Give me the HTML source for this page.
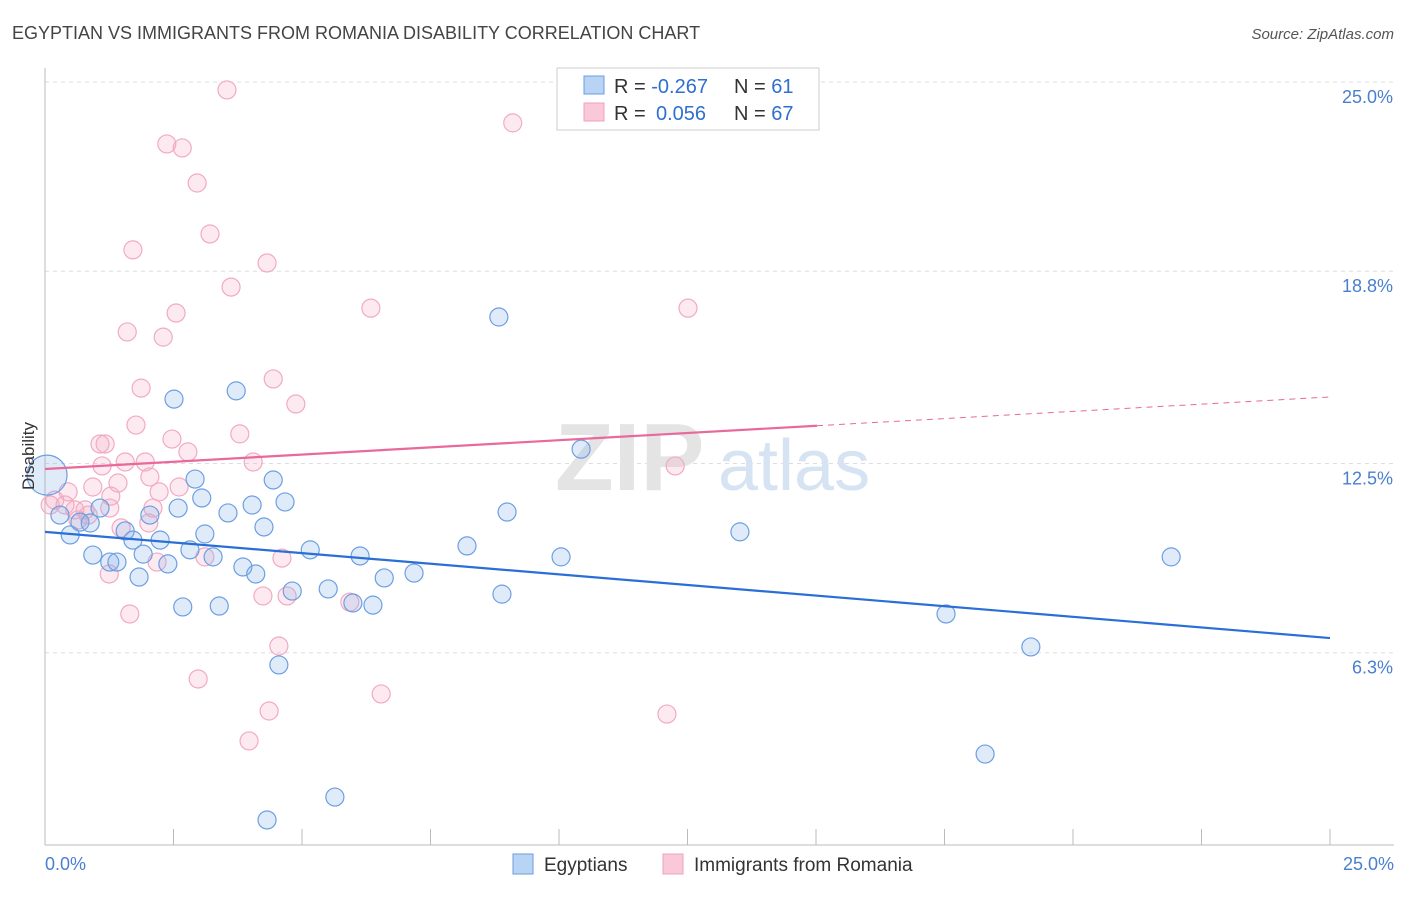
<!DOCTYPE html>
<html><head><meta charset="utf-8"><style>
body{margin:0;background:#fff;font-family:"Liberation Sans",sans-serif;}
svg text{font-family:"Liberation Sans",sans-serif;}
</style></head><body>
<svg id="chart" width="1406" height="892">
<text x="12" y="39" font-size="18" fill="#444">EGYPTIAN VS IMMIGRANTS FROM ROMANIA DISABILITY CORRELATION CHART</text>
<text x="1394" y="39" font-size="15" fill="#555" text-anchor="end" font-style="italic">Source: ZipAtlas.com</text>
<g id="grid"></g>
<text x="555" y="490" font-size="96" fill="#e4e4e4" font-family="Liberation Serif" font-weight="bold">ZIP</text>
<text x="718" y="490" font-size="72" fill="#d6e3f3">atlas</text>
<g id="marks"></g>
<text transform="translate(34,456) rotate(-90)" font-size="17" fill="#333" text-anchor="middle">Disability</text>
<text x="45" y="870" font-size="18" fill="#4a7fd0">0.0%</text>
<text x="1394" y="870" font-size="18" fill="#4a7fd0" text-anchor="end">25.0%</text>
<g>
<rect x="557" y="68" width="262" height="62" fill="#fff" stroke="#ccc"/>
<rect x="584" y="76" width="20" height="18" fill="#b9d3f5" stroke="#6a9de0"/>
<rect x="584" y="103" width="20" height="18" fill="#f9c9d8" stroke="#eea0ba"/>
<text x="614" y="93" font-size="20" fill="#333">R = <tspan fill="#2f6fd0">-0.267</tspan><tspan x="734">N = </tspan><tspan fill="#2f6fd0">61</tspan></text>
<text x="614" y="120" font-size="20" fill="#333">R = <tspan fill="#2f6fd0" x="656">0.056</tspan><tspan x="734">N = </tspan><tspan fill="#2f6fd0">67</tspan></text>
</g>
<g>
<rect x="513" y="854" width="20" height="20" fill="#b9d3f5" stroke="#6a9de0"/>
<text x="544" y="871" font-size="19" fill="#333">Egyptians</text>
<rect x="663" y="854" width="20" height="20" fill="#f9c9d8" stroke="#eea0ba"/>
<text x="694" y="871" font-size="19" fill="#333">Immigrants from Romania</text>
</g>
</svg>
<script>
const blueX=[8.83,2.51,3.72,10.43,2.92,4.44,3.05,4.67,2.59,4.03,3.56,8.99,4.26,13.52,3.11,1.56,1.07,0.49,1.71,2.24,0.93,1.91,2.82,5.16,6.13,8.21,10.04,21.91,1.26,1.40,2.39,3.27,3.85,4.10,1.83,6.60,7.18,4.81,5.51,5.99,6.38,8.89,2.68,3.39,17.53,19.18,4.55,18.29,5.64,4.32,0.29,0.68,0.88,2.04,0.04];
const blueY=[17.30,14.61,14.88,12.97,11.99,11.96,11.37,11.24,11.04,11.14,10.88,10.91,10.42,10.26,10.19,10.29,11.04,10.16,9.99,9.99,9.50,9.53,9.67,9.67,9.47,9.80,9.44,9.44,9.27,9.27,9.21,9.44,9.11,8.88,8.78,8.75,8.91,8.32,8.39,7.93,7.86,8.22,7.80,7.83,7.57,6.49,5.90,2.98,1.57,0.82,10.81,10.58,10.55,10.81,12.12];
const pinkX=[3.54,9.10,2.37,2.67,2.96,3.21,1.71,4.32,3.62,6.34,12.51,2.55,1.60,2.30,4.44,1.87,4.88,1.77,3.79,2.47,1.07,1.17,2.78,12.26,1.11,1.56,1.95,4.05,2.04,1.42,0.93,2.61,2.22,0.45,1.28,0.19,0.39,0.78,1.26,2.10,0.58,2.02,1.48,4.61,3.11,2.18,1.25,4.24,4.71,5.93,1.65,4.55,2.98,6.54,4.36,12.10,3.97,0.10,0.64,0.84];
const pinkY=[24.74,23.66,22.97,22.84,21.69,20.02,19.50,19.07,18.28,17.59,17.59,17.43,16.81,16.64,15.27,14.97,14.45,13.76,13.47,13.30,13.14,13.14,12.88,12.42,12.42,12.55,12.55,12.55,12.06,11.86,11.73,11.73,11.57,11.57,11.43,11.30,11.14,10.98,11.04,11.04,10.98,10.55,10.39,9.40,9.44,9.27,8.88,8.16,8.16,7.96,7.57,6.52,5.44,4.95,4.39,4.29,3.41,11.14,10.65,10.81];
const yTicks=[25.0,18.8,12.5,6.3];
const yTickLabels=["25.0%","18.8%","12.5%","6.3%"];
const blueTrend=[10.26,6.78];
const pinkTrend=[12.32,14.68];
const pinkSolidEnd=15.02;
const NS="http://www.w3.org/2000/svg";
const sx=v=>45+v/25*1285;
const sy=v=>845-v/25*763;
const grid=document.getElementById('grid'),marks=document.getElementById('marks');
function mk(t,a,p){const e=document.createElementNS(NS,t);for(const k in a)e.setAttribute(k,a[k]);p.appendChild(e);return e;}
yTicks.forEach((t,i)=>{
 const l=mk('line',{x1:45,x2:1394,y1:sy(t),y2:sy(t),stroke:'#ddd','stroke-dasharray':'4,4'},grid);
 
 
 const tx=mk('text',{x:1393,y:sy(t)+21,'font-size':18,fill:'#4a7fd0','text-anchor':'end'},grid);
 tx.textContent=yTickLabels[i];
 
 
});
for(let i=0;i<=10;i++){
 const t=mk('line',{x1:sx(i*2.5),x2:sx(i*2.5),y1:829,y2:845,stroke:'#bbb'},grid);
 
 
}
let ax=mk('line',{x1:45,x2:45,y1:68,y2:845,stroke:'#bbb'},grid);


ax=mk('line',{x1:45,x2:1394,y1:845,y2:845,stroke:'#bbb'},grid);


pinkX.forEach((x,i)=>{
 const c=mk('circle',{cx:sx(x),cy:sy(pinkY[i]),r:9,fill:'rgba(245,170,196,0.25)',stroke:'#f2aac2','stroke-width':1.2},marks);
 
 
});
blueX.forEach((x,i)=>{
 const c=mk('circle',{cx:sx(x),cy:sy(blueY[i]),r:i==blueX.length-1?20:9,fill:'rgba(130,175,235,0.25)',stroke:'#6c9fe2','stroke-width':1.2},marks);
 
 
});
let tl=mk('line',{x1:sx(0),y1:sy(blueTrend[0]),x2:sx(25),y2:sy(blueTrend[1]),stroke:'#2a6fd6','stroke-width':2.2},marks);


const pm=pinkTrend[0]+(pinkTrend[1]-pinkTrend[0])*pinkSolidEnd/25;
tl=mk('line',{x1:sx(0),y1:sy(pinkTrend[0]),x2:sx(pinkSolidEnd),y2:sy(pm),stroke:'#e8699a','stroke-width':2.2},marks);


tl=mk('line',{x1:sx(pinkSolidEnd),y1:sy(pm),x2:sx(25),y2:sy(pinkTrend[1]),stroke:'#e8699a','stroke-width':1,'stroke-dasharray':'6,5'},marks);


</script>
</body></html>
